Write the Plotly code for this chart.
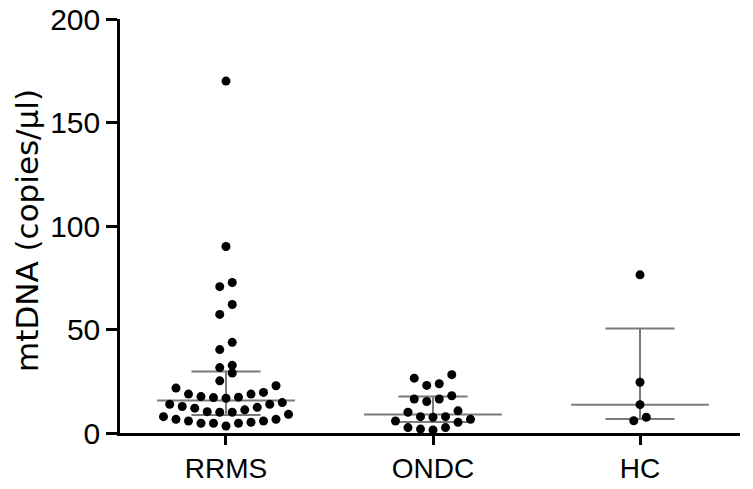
import numpy as np
import plotly.graph_objects as go

# values (copies/ul)
groups = ["RRMS", "ONDC", "HC"]
rrms = [170, 90.1, 72.7, 70.7, 62.1, 57.3, 43.8, 40.3, 32.7, 31.6, 29.0, 25.2,
        22.8, 21.7, 19.6, 18.8, 18.8, 17.6, 17.3, 17.1, 16.8,
        14.7, 13.9, 13.9, 12.8, 12.4, 12.0, 11.2, 10.3, 10.0, 10.0,
        9.0, 7.9, 6.6, 6.6, 5.8, 5.8, 5.2, 4.7, 4.7, 4.7, 3.4]
ondc = [28.2, 26.5, 23.8, 23.0, 18.0, 16.4, 16.4, 15.2, 10.7, 10.0,
        7.9, 7.9, 7.6, 6.6, 5.8, 5.2, 2.6, 2.6, 1.9, 1.5]
hc = [76.4, 24.5, 13.7, 7.6, 5.9]
y_ticks = [0, 50, 100, 150, 200]

# style constants
X_RANGE = [0.488, 3.483]
DOT_GAP = 0.0604      # horizontal gap between dots in a row (x units)
ROW_H = 6.0           # values within this band share a row
MED_HALF = 0.333
IQR_HALF = 0.167
LINE_COL = "#7a7a7a"


def swarm(values, center):
    # Prism-like column scatter: bin into rows, spread each row symmetrically,
    # lowest values in the middle
    vals = sorted(values)
    rows, cur = [], [vals[0]]
    for v in vals[1:]:
        if v - cur[0] <= ROW_H:
            cur.append(v)
        else:
            rows.append(cur)
            cur = [v]
    rows.append(cur)
    xs, ys = [], []
    for row in rows:
        n = len(row)
        slots = [i - (n - 1) / 2 for i in range(n)]
        slots.sort(key=lambda s: (abs(s), s))
        for v, s in zip(row, slots):
            xs.append(center + s * DOT_GAP)
            ys.append(v)
    return xs, ys


fig = go.Figure()

line_x, line_y = [], []
for i, vals in enumerate([rrms, ondc, hc]):
    c = i + 1
    q1, med, q3 = np.percentile(vals, [25, 50, 75], method="weibull")
    line_x += [c - MED_HALF, c + MED_HALF, None,
               c - IQR_HALF, c + IQR_HALF, None,
               c - IQR_HALF, c + IQR_HALF, None,
               c, c, None]
    line_y += [med, med, None, q1, q1, None, q3, q3, None, q1, q3, None]

fig.add_trace(go.Scatter(x=line_x, y=line_y, mode="lines",
                         line=dict(color=LINE_COL, width=2), hoverinfo="skip"))

for i, vals in enumerate([rrms, ondc, hc]):
    xs, ys = swarm(vals, i + 1)
    fig.add_trace(go.Scatter(x=xs, y=ys, mode="markers", name=groups[i],
                             marker=dict(color="black", size=9)))

fig.update_xaxes(range=X_RANGE, tickvals=[1, 2, 3], ticktext=groups,
                 showline=True, linecolor="black", linewidth=2.5,
                 ticks="outside", ticklen=9, tickwidth=2.5, tickcolor="black",
                 showgrid=False, zeroline=False, automargin=False,
                 ticklabeloverflow="allow",
                 tickfont=dict(family="Liberation Sans, Arial", size=28, color="black"))
fig.update_yaxes(range=[0, 200], tickvals=y_ticks,
                 showline=True, linecolor="black", linewidth=2.5,
                 ticks="outside", ticklen=11, tickwidth=2.5, tickcolor="black",
                 showgrid=False, zeroline=False, automargin=False,
                 ticklabeloverflow="allow",
                 tickfont=dict(family="Liberation Sans, Arial", size=30, color="black"))

fig.add_annotation(text="mtDNA (copies/µl)", xref="paper", yref="paper",
                   x=-0.15, y=0.488, textangle=-90, showarrow=False,
                   xanchor="center", yanchor="middle",
                   font=dict(family="DejaVu Sans", size=31, color="black"))

# page body keeps its default 8px margin, so the figure is 8px smaller
fig.update_layout(width=745, height=481, showlegend=False,
                  plot_bgcolor="white", paper_bgcolor="white",
                  margin=dict(l=112, r=13, t=11, b=56))

fig.write_html("out.html")
